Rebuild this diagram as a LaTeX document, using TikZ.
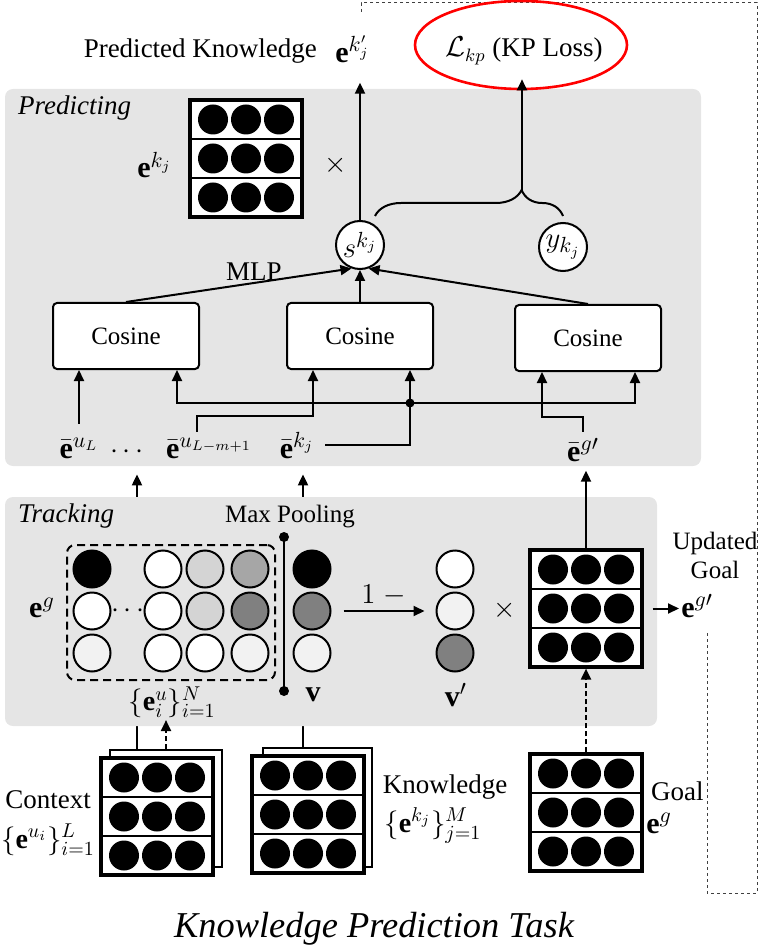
\documentclass[tikz,border=0pt]{standalone}
\usepackage{fontspec}
\setmainfont{Liberation Serif}
\usetikzlibrary{arrows.meta,shapes.geometric,decorations.pathreplacing,calc}
\newcommand{\myfs}[1]{\fontsize{#1}{#1}\selectfont}
\definecolor{panelgray}{gray}{0.9}
\definecolor{ga}{gray}{0.95}
\definecolor{gb}{gray}{0.83}
\definecolor{gc}{gray}{0.65}
\definecolor{gd}{gray}{0.5}
\newcommand{\embmat}[3]{%
  \foreach \rr in {0,1,2}{%
    \draw[line width=1pt, fill=white] (#2,#3+\rr*39) rectangle ++(112,39);
    \foreach \cc in {23,56,89} \fill (#2+\cc,#3+\rr*39+19.5) circle[radius=15];
  }%
  \node[matbox] (#1) at (#2+56,#3+58.5) {};%
}
\begin{document}
\begin{tikzpicture}[x=0.5pt,y=-0.5pt,
  every node/.style={font=\myfs{13.5}},
  arr/.style={-{Triangle[length=5.5pt,width=5pt]}, line width=1pt},
  panel/.style={fill=panelgray, rounded corners=4pt, draw=none, inner sep=0},
  cosbox/.style={draw, line width=1pt, rounded corners=2pt, fill=white, minimum width=73pt, minimum height=33pt, font=\myfs{12.5}},
  bigcirc/.style={circle, draw, line width=1pt, fill=white, minimum size=24pt, inner sep=0, font=\myfs{15}},
  tc/.style={circle, draw, line width=1pt, minimum size=18.5pt, inner sep=0},
  mathlbl/.style={font=\myfs{15}, inner sep=1pt},
  fb/.style={dash pattern=on 1.6pt off 1.4pt, line width=0.5pt, black!75},
  dsh/.style={dash pattern=on 2.5pt off 1.5pt},
  matbox/.style={draw, line width=1.6pt, minimum width=56pt, minimum height=58.5pt, inner sep=0},
  backbox/.style={draw, line width=1.2pt, fill=white, inner sep=0}
]
\useasboundingbox (0,0) rectangle (760,946);

% feedback dashed path
\coordinate (f1) at (707,633);
\coordinate (f2) at (707,893);
\coordinate (f3) at (757,893);
\coordinate (f4) at (757,3);
\coordinate (f5) at (361,3);
\coordinate (f6) at (361,14);
\draw[fb] (f1) -- (f2) -- (f3) -- (f4) -- (f5) -- (f6);

% Predicting panel
\node[panel, minimum width=348pt, minimum height=188.5pt] (pred) at (353,277.5) {};
\node[anchor=base west, font=\myfs{13.5}\itshape] (predlbl) at (11,115) {Predicting};

% bottom stacks
\node[backbox, minimum width=56pt, minimum height=58.5pt] (ctxb) at (166,808.5) {};
\embmat{ctx}{101}{758}
\node[backbox, minimum width=54.5pt, minimum height=59.5pt] (knb) at (317.5,807.5) {};
\embmat{kn}{252}{756}
\coordinate (ca) at ($(ctxb.north)+(-29,0)$);
\coordinate (ka) at ($(knb.north)+(-14.5,0)$);
\draw[arr, shorten >=4pt] (ca) -- (ca |- pred.south);
\draw[arr, shorten >=4pt] (ka) -- (ka |- pred.south);

% Tracking panel
\node[panel, minimum width=326pt, minimum height=114.5pt] (track) at (331,611.5) {};
\node[anchor=base west, font=\myfs{13.5}\itshape] (tracklbl) at (11,522) {Tracking};

% ---- Predicting content
\embmat{ekm}{190}{100}
\node[mathlbl, anchor=base west] (ekl) at (135,178) {$\mathbf{e}^{k_j}$};
\node[mathlbl] (x1) at (336,165) {$\times$};

\node[bigcirc] (s) at (360,245) {$s^{k_j}$};
\node[bigcirc] (y) at (563,247) {$y_{k_j}$};

\node[anchor=base east] (pkt) at (324,58) {Predicted Knowledge};
\node[mathlbl, anchor=base west] (pk) at (333,63) {$\mathbf{e}^{k'_j}$};
\draw[arr, shorten >=8.5pt] (s.north) -- (s.north |- pk.south);

\coordinate (bl) at (375,216);
\coordinate (br) at (563,216);
\coordinate (btip) at (522,190);
\draw[line width=1pt, decorate, decoration={brace, amplitude=13pt, aspect=0.78}] (bl) -- (br);
\node[ellipse, draw=red, line width=1.3pt, minimum width=106pt, minimum height=44pt, inner sep=0] (lossell) at (521,45) {};
\node[anchor=base] (loss) at (524,57) {$\mathcal{L}_{kp}$ (KP Loss)};
\draw[arr, shorten >=-5.5pt] (btip) -- (btip |- lossell.south);

\node[cosbox] (c1) at (126,336) {Cosine};
\node[cosbox] (c2) at (360,336) {Cosine};
\node[cosbox] (c3) at (588,338) {Cosine};
\draw[arr] (c1.north) -- (s.-110);
\draw[arr] (c2.north) -- (s.south);
\draw[arr] (c3.north) -- (s.-70);
\node (mlp) at (254,272) {MLP};

\node[mathlbl, anchor=base] (eu) at (79,458) {$\bar{\mathbf{e}}^{u_L}$};
\node[mathlbl, anchor=base] (dd) at (127,458) {$\cdots$};
\node[mathlbl, anchor=base] (eum) at (209,458) {$\bar{\mathbf{e}}^{u_{L-m+1}}$};
\node[mathlbl, anchor=base] (ekb) at (297,458) {$\bar{\mathbf{e}}^{k_j}$};
\node[mathlbl, anchor=base] (egb) at (583,461) {$\bar{\mathbf{e}}^{g\prime}$};

\draw[arr, shorten <=6pt] (eu.north) -- (eu.north |- c1.south);
\coordinate (jn) at ($(c2.south)+(50,33)$);
\draw[arr, shorten <=4.5pt] (ekb.east) -| ([xshift=25pt]c2.south);
\draw[arr] (jn) -| ([xshift=25.5pt]c1.south);
\draw[arr] (jn) -| ([xshift=23.5pt]c3.south);
\fill (jn) circle[radius=4.5];
\draw[arr, shorten <=2pt] ([xshift=-6pt]eum.north) |- ($(c2.south)+(-47,46)$) -- ([xshift=-23.5pt]c2.south);
\draw[arr, shorten <=2pt] (egb.north) |- ($(c3.south)+(-46,45)$) -- ([xshift=-23pt]c3.south);

% ---- Tracking content
\node[draw, rounded corners=4pt, line width=1pt, dash pattern=on 4pt off 2.5pt, minimum width=104pt, minimum height=67.5pt] (utt) at (171,612.5) {};
\foreach \xx/\yy/\cl/\nm in {92/569/black/t11, 92/611/white/t21, 92/653/ga/t31,
  163/569/white/t12, 163/611/white/t22, 163/653/white/t32,
  205/569/gb/t13, 205/611/gb/t23, 205/653/white/t33,
  250/569/gc/t14, 250/611/gd/t24, 250/653/ga/t34,
  312/569/black/v1, 312/611/gd/v2, 312/653/ga/v3,
  455/569/white/w1, 455/611/ga/w2, 455/653/gd/w3}
  \node[tc, fill=\cl] (\nm) at (\xx,\yy) {};
\node[mathlbl] (eg) at (42,608) {$\mathbf{e}^g$};
\node[mathlbl] (tdots) at (128,611) {$\cdots$};
\node[anchor=base, font=\myfs{12.5}] (mpl) at (290,522) {Max Pooling};
\coordinate (mp1) at (284,537);
\coordinate (mp2) at (284,691);
\draw[line width=1pt] (mp1) -- (mp2);
\fill (mp1) circle[radius=5];
\fill (mp2) circle[radius=5];
\node[mathlbl] (vl) at (313,695) {$\mathbf{v}$};
\node[mathlbl] (vpl) at (456,695) {$\mathbf{v}'$};
\draw[arr, shorten <=6pt, shorten >=5.5pt] (v2.east) -- (w2.west) node[midway, above=1pt, mathlbl] (onem) {$1\;-$};
\node[mathlbl] (x2) at (505,610) {$\times$};
\embmat{egm}{530}{550}
\draw[arr, shorten >=3.5pt] (egm.north) -- (egm.north |- egb.south);
\node[mathlbl, anchor=base west] (egp) at (679,617) {$\mathbf{e}^{g\prime}$};
\draw[arr, shorten <=4.5pt] (egm.east) -- (egm.east -| egp.west);
\node[align=center, font=\fontsize{12.5}{14.5}\selectfont] (upd) at (715,555) {Updated\\Goal};

% ---- bottom
\node[mathlbl, font=\myfs{14}] (eiu) at (172,702) {$\{\mathbf{e}^u_i\}_{i=1}^N$};
\draw[arr, dsh] (ctxb.north) -- (ctxb.north |- eiu.south);
\embmat{gm}{530}{754}
\draw[arr, dsh] (gm.north) -- (egm.south);
\node[anchor=base west] (goallbl) at (644,800) {Goal};
\node[mathlbl, anchor=base west] (gel) at (644,833) {$\mathbf{e}^g$};
\node[anchor=base] (ctxl) at (48,808) {Context};
\node[mathlbl, font=\myfs{14}, anchor=base] (ctxm) at (48,848) {$\{\mathbf{e}^{u_i}\}_{i=1}^L$};
\node[anchor=base] (knl) at (445,793) {Knowledge};
\node[mathlbl, font=\myfs{14}, anchor=base west] (knm) at (382,832) {$\{\mathbf{e}^{k_j}\}_{j=1}^M$};

\node[anchor=base, font=\myfs{18.2}\itshape] (title) at (374,937) {Knowledge Prediction Task};
\end{tikzpicture}
\end{document}
